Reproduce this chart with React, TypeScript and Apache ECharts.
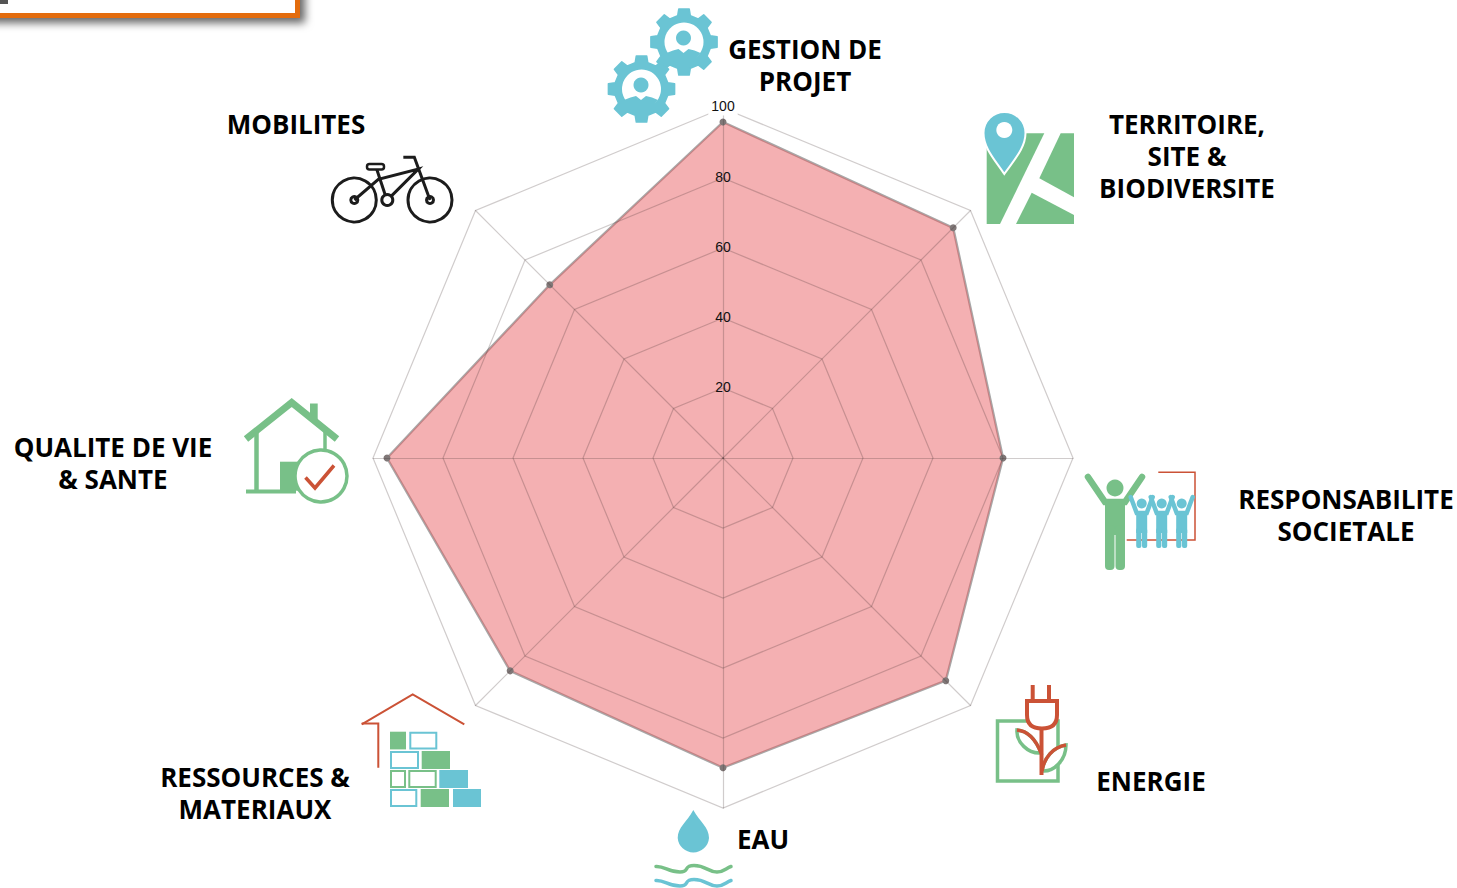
import React, { useEffect, useRef } from "react";
import * as echarts from "echarts";

// ECharts lays radar indicators out counter-clockwise from the top.
const categories = [
  "GESTION DE\nPROJET",
  "MOBILITES",
  "QUALITE DE VIE\n& SANTE",
  "RESSOURCES &\nMATERIAUX",
  "EAU",
  "ENERGIE",
  "RESPONSABILITE\nSOCIETALE",
  "TERRITOIRE,\nSITE &\nBIODIVERSITE",
];
const scores = [96, 70, 96, 86, 88.5, 90, 80, 93];
const axisMax = 100;

const labelAnchors = [
  [805, 50],
  [296, 125],
  [113, 448],
  [255, 778],
  [763, 840],
  [1151, 782],
  [1346, 500],
  [1187, 125],
];

const GREEN = "#78c088";
const BLUE = "#6ac4d4";
const RED = "#cb5236";
const BLACK = "#1c1c1c";

function gearPath(cx: number, cy: number, rOut: number, rIn: number, teeth: number) {
  let d = "";
  const step = (Math.PI * 2) / teeth;
  const pts: number[][] = [];
  for (let i = 0; i < teeth; i++) {
    const a = i * step - Math.PI / 2;
    pts.push([a - step * 0.3, rIn], [a - step * 0.2, rOut], [a + step * 0.2, rOut], [a + step * 0.3, rIn]);
  }
  pts.forEach(([a, r], i) => {
    d += `${i ? "L" : "M"}${(cx + r * Math.cos(a)).toFixed(1)},${(cy + r * Math.sin(a)).toFixed(1)} `;
  });
  return d + "Z";
}

function shape(name: string, d: string, style: any) {
  echarts.graphic.registerShape(name, echarts.graphic.extendPath(d as any, {} as any));
  return { type: name, x: 0, y: 0, style, silent: true };
}
const circle = (cx: number, cy: number, r: number, style: any) => ({ type: "circle", shape: { cx, cy, r }, style, silent: true });
const rect = (x: number, y: number, width: number, height: number, style: any, r = 0) => ({
  type: "rect",
  shape: { x, y, width, height, r },
  style,
  silent: true,
});
const poly = (points: number[][], stroke: string, lineWidth: number, cap = "butt") => ({
  type: "polyline",
  shape: { points },
  style: { stroke, lineWidth, fill: "none", lineCap: cap, lineJoin: "miter" },
  silent: true,
});
const fillPoly = (points: number[][], fill: string) => ({ type: "polygon", shape: { points }, style: { fill }, silent: true });

function gearIcon(id: string, cx: number, cy: number, rOut: number, rIn: number) {
  const bx = cx - 0.5;
  return [
    shape("gear" + id, gearPath(cx, cy, rOut, rIn, 8), { fill: BLUE, stroke: BLUE, lineWidth: 1.5, lineJoin: "round" }),
    circle(cx, cy, 19.5, { fill: "#fff" }),
    circle(bx, cy - 4, 7.5, { fill: BLUE }),
    shape(
      "gearBody" + id,
      `M${bx - 17},${cy + 11} Q${bx - 10},${cy + 8} ${bx - 5},${cy + 7} L${bx},${cy + 11} L${bx + 5},${cy + 7} Q${bx + 11},${cy + 8} ${bx + 17},${cy + 11} L${bx + 8},${cy + 22} L${bx - 8},${cy + 22} Z`,
      { fill: BLUE }
    ),
  ];
}

function icons(): any[] {
  const out: any[] = [];
  // gears
  out.push(...gearIcon("A", 684, 42, 33.5, 27), ...gearIcon("B", 641.5, 89, 33.5, 27));
  // map
  out.push(
    fillPoly([[986.7, 133.3], [1044.3, 133.3], [1000, 224], [986.7, 224]], GREEN),
    fillPoly([[1060.7, 133.3], [1074, 133.3], [1074, 197.3], [1039.3, 178.3]], GREEN),
    fillPoly([[1031.7, 192.7], [1074, 215], [1074, 224], [1016, 224]], GREEN),
    shape(
      "pin",
      "M1004.3,174 C995,160 983.5,148 983.5,133 A20.8,20.8 0 0 1 1025.5,133 C1025.5,148 1014,160 1004.3,174 Z",
      { fill: BLUE, stroke: "#fff", lineWidth: 2 }
    ),
    circle(1004.3, 130, 8, { fill: "#fff" })
  );
  // people
  out.push(
    poly([[1158.3, 472.3], [1195, 472.3], [1195, 540], [1126.7, 540]], RED, 1.5),
    circle(1115, 488, 8.5, { fill: GREEN }),
    poly([[1088, 477], [1105, 502], [1125, 502], [1142, 477]], GREEN, 6.5, "round"),
    rect(1105, 499, 20, 36, { fill: GREEN }, 2),
    rect(1105, 525, 9.5, 45, { fill: GREEN }, 4),
    rect(1115.5, 525, 9.5, 45, { fill: GREEN }, 4)
  );
  [1141.7, 1161.7, 1181.7].forEach((x) => {
    out.push(
      circle(x, 503.5, 5, { fill: BLUE }),
      poly([[x - 11, 497], [x - 5, 513], [x + 5, 513], [x + 11, 497]], BLUE, 4.5, "round"),
      rect(x - 5.5, 511, 11, 22, { fill: BLUE }),
      rect(x - 5.5, 528, 5.2, 20, { fill: BLUE }, 2),
      rect(x + 0.3, 528, 5.2, 20, { fill: BLUE }, 2)
    );
  });
  // energy
  out.push(
    rect(997.5, 721, 60.5, 60, { fill: "none", stroke: GREEN, lineWidth: 3.5 }),
    poly([[1032.7, 685], [1032.7, 701]], RED, 4),
    poly([[1049, 685], [1049, 701]], RED, 4),
    shape("plug", "M1027,701 L1057,701 L1057,715 Q1057,728.5 1042,728.5 Q1027,728.5 1027,715 Z", {
      fill: "#fff",
      stroke: RED,
      lineWidth: 4,
    }),
    shape("leafL", "M1041,753 C1036,740 1028,731 1017,730 C1016,742 1028,754 1041,753 Z", {
      fill: "#fff",
      stroke: GREEN,
      lineWidth: 3.5,
    }),
    shape("leafR", "M1042,771 C1044,758 1053,747 1066,745 C1066,760 1054,772 1042,771 Z", {
      fill: "#fff",
      stroke: GREEN,
      lineWidth: 3.5,
    }),
    shape("leafLTop", "M1017,730 C1028,731 1036,740 1041,753", { fill: "none", stroke: RED, lineWidth: 3.5 }),
    shape("leafRTop", "M1042,771 C1044,758 1053,747 1066,745", { fill: "none", stroke: RED, lineWidth: 3.5 }),
    poly([[1041.5, 729], [1041.5, 775]], RED, 4)
  );
  // bricks
  out.push(
    poly([[361.7, 724.3], [412.7, 694.3], [464.3, 724.3]], RED, 2),
    poly([[361.7, 723.6], [378.3, 723.6], [378.3, 767.7]], RED, 2)
  );
  const sb = (x: number, y: number, w: number, h: number, c: string) => rect(x, y, w, h, { fill: c });
  const ob = (x: number, y: number, w: number, h: number, c: string) =>
    rect(x + 1, y + 1, w - 2, h - 2, { fill: "#fff", stroke: c, lineWidth: 2 });
  out.push(
    sb(390, 731.7, 16, 17.7, GREEN),
    ob(409.3, 731.7, 28, 17.7, BLUE),
    ob(390, 751, 29, 18, BLUE),
    sb(421.7, 751, 28.3, 18, GREEN),
    ob(390, 770, 16, 18, GREEN),
    ob(408.3, 770, 28.4, 18, GREEN),
    sb(439.3, 770, 28.7, 18, BLUE),
    ob(390, 789, 27.3, 18, BLUE),
    sb(420.7, 789, 28.3, 18, GREEN),
    sb(453, 789, 28, 18, BLUE)
  );
  // water
  out.push(
    shape("drop", "M693.3,810 C700,822 709,827 709,838 A15.7,15.7 0 0 1 677.7,838 C677.7,827 687,822 693.3,810 Z", {
      fill: BLUE,
    }),
    shape("waveG", "M656,866.5 C665,866 668,872 680,872 C690,872 683,865.5 694,865.5 C706,865.5 708,872 717,872 C724,872 726,868 731,866.5", {
      fill: "none",
      stroke: GREEN,
      lineWidth: 3.5,
      lineCap: "round",
    }),
    shape("waveB", "M656,880.5 C665,880 668,886 680,886 C690,886 683,879.5 694,879.5 C706,879.5 708,886 717,886 C724,886 726,882 731,880.5", {
      fill: "none",
      stroke: BLUE,
      lineWidth: 3.5,
      lineCap: "round",
    })
  );
  // house
  out.push(
    rect(310, 403.5, 7.7, 17, { fill: GREEN }),
    poly([[246, 439], [291.7, 402.5], [337, 439]], GREEN, 7),
    poly([[256.5, 430], [256.5, 491]], GREEN, 4.5),
    poly([[325, 428], [325, 452]], GREEN, 3.5),
    poly([[246, 491.5], [296, 491.5]], GREEN, 4),
    rect(280, 461.7, 18, 29, { fill: GREEN }),
    circle(321, 476, 26, { fill: "#fff", stroke: GREEN, lineWidth: 3.5 }),
    poly([[305.5, 477.5], [315, 488], [334, 465.5]], RED, 3.5)
  );
  // bike
  const b = (x: number, y: number) => [320 + x / 3, 145 + y / 3];
  out.push(
    circle(354.3, 200, 22, { fill: "none", stroke: BLACK, lineWidth: 3 }),
    circle(430, 200, 22, { fill: "none", stroke: BLACK, lineWidth: 3 }),
    circle(354.3, 200, 3.5, { fill: "#fff", stroke: BLACK, lineWidth: 3 }),
    circle(430, 200, 3.5, { fill: "#fff", stroke: BLACK, lineWidth: 3 }),
    poly([b(103, 165), b(175, 103), b(295, 72), b(207, 160)], BLACK, 3),
    poly([b(170, 72), b(195, 148)], BLACK, 3),
    poly([b(250, 37), b(283, 37), b(330, 165)], BLACK, 3),
    circle(387.3, 200, 5.5, { fill: "#fff", stroke: BLACK, lineWidth: 3 }),
    rect(367, 164, 17, 5.5, { fill: "#fff", stroke: BLACK, lineWidth: 2.5 }, 2.5)
  );
  return out;
}

function textLabels(): any[] {
  return categories.map((c, i) => ({
    type: "text",
    x: labelAnchors[i][0],
    y: labelAnchors[i][1] - 17,
    silent: true,
    style: {
      text: c,
      fill: "#000",
      font: 'bold 26px "Open Sans"',
      lineHeight: 32,
      align: "center",
      verticalAlign: "top",
    },
  }));
}

export default function App() {
  const ref = useRef<HTMLDivElement>(null);
  useEffect(() => {
    document.body.style.margin = "0";
    const chart = echarts.init(ref.current!, undefined, { renderer: "svg" });
    const tickLabel = {
      show: true,
      margin: 0,
      rotate: 0,
      align: "center",
      verticalAlign: "middle",
      color: "#111",
      fontFamily: "Liberation Sans",
      fontSize: 14,
      padding: [0, 0, 2, 0],
      formatter: (v: number) => (v === 0 ? "" : v === axisMax ? `{top|${v}}` : `${v}`),
      rich: {
        top: { backgroundColor: "#fff", padding: [0, 3, 3, 3], fontSize: 14, color: "#111", fontFamily: "Liberation Sans" },
      },
    };
    chart.setOption({
      animation: false,
      backgroundColor: "#fff",
      radar: {
        z: 3,
        center: [723, 458],
        radius: 350,
        startAngle: 90,
        splitNumber: 5,
        shape: "polygon",
        axisName: { show: false },
        splitArea: { show: false },
        splitLine: { lineStyle: { color: "rgba(60,40,40,0.24)", width: 1.2 } },
        axisLine: { lineStyle: { color: "rgba(60,40,40,0.24)", width: 1.2 } },
        axisTick: { show: false },
        indicator: categories.map((name, i) => ({
          name,
          max: axisMax,
          min: 0,
          ...(i === 0 ? { axisLabel: tickLabel } : {}),
        })),
      },
      series: [
        {
          type: "radar",
          symbol: "circle",
          symbolSize: 7,
          itemStyle: { color: "#807878" },
          lineStyle: { color: "#a8a8a8", width: 2.4 },
          areaStyle: { color: "rgba(232,88,92,0.47)", opacity: 1 },
          data: [{ value: scores }],
        },
      ],
      graphic: {
        elements: [
          {
            type: "rect",
            silent: true,
            shape: { x: -20, y: -20, width: 317.5, height: 35.5 },
            style: {
              fill: "#fff",
              stroke: "#e36c0a",
              lineWidth: 5,
              shadowBlur: 9,
              shadowOffsetX: 5,
              shadowOffsetY: 5,
              shadowColor: "rgba(0,0,0,0.6)",
            },
          },
          { type: "rect", silent: true, shape: { x: 0, y: 0, width: 8, height: 4 }, style: { fill: "#555" } },
          ...icons(),
          ...textLabels(),
        ],
      },
    });
    return () => chart.dispose();
  }, []);
  return <div ref={ref} style={{ width: 1457, height: 888 }} />;
}
